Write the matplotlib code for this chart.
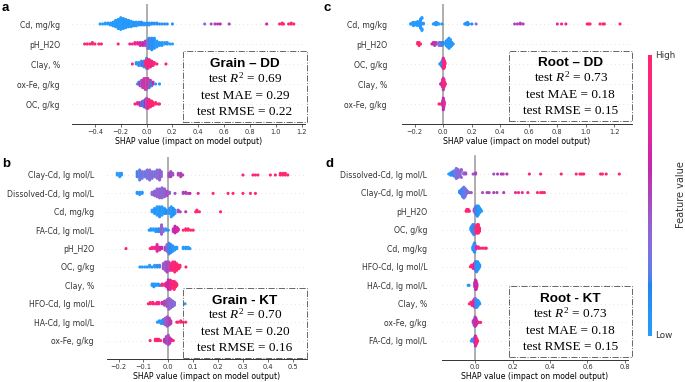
import numpy as np
import matplotlib
matplotlib.use("Agg")
import matplotlib.pyplot as plt
from matplotlib.colors import LinearSegmentedColormap
from matplotlib.patches import Rectangle
from matplotlib.cm import ScalarMappable

plt.rcParams["mathtext.fontset"] = "custom"
plt.rcParams["mathtext.rm"] = "Liberation Serif"
plt.rcParams["mathtext.it"] = "Liberation Serif:italic"

# =========================
# DATA  (shap value, number of samples, normalised feature value)
# =========================
# a : Grain - DD
A_CD = [(-0.36, 1, 0.0), (-0.34, 1, 0.02), (-0.32, 2, 0.0), (-0.30, 2, 0.03), (-0.28, 3, 0.0),
        (-0.26, 5, 0.02), (-0.24, 8, 0.0), (-0.22, 11, 0.02), (-0.20, 14, 0.0), (-0.18, 12, 0.05),
        (-0.16, 10, 0.02), (-0.14, 8, 0.05), (-0.12, 7, 0.0), (-0.10, 5, 0.08), (-0.08, 5, 0.03),
        (-0.06, 4, 0.05), (-0.04, 4, 0.1), (-0.02, 3, 0.05), (0.0, 3, 0.08), (0.02, 3, 0.05),
        (0.04, 2, 0.1), (0.06, 2, 0.05), (0.08, 2, 0.08), (0.10, 1, 0.1), (0.12, 1, 0.05),
        (0.14, 1, 0.1), (0.16, 1, 0.05), (0.20, 1, 0.08),
        (0.45, 1, 0.3), (0.50, 1, 0.45), (0.53, 1, 0.5), (0.55, 1, 0.55), (0.57, 1, 0.6),
        (0.64, 1, 0.5), (0.93, 1, 0.65), (1.03, 1, 0.9), (1.05, 2, 0.95), (1.06, 1, 1.0),
        (1.10, 1, 1.0), (1.12, 2, 0.95), (1.14, 1, 1.0)]
A_PH = [(-0.48, 1, 1.0), (-0.46, 1, 0.95), (-0.44, 1, 1.0), (-0.42, 2, 0.9), (-0.40, 1, 1.0),
        (-0.37, 1, 0.95), (-0.35, 1, 1.0), (-0.22, 1, 0.95), (-0.13, 1, 0.85), (-0.11, 1, 0.9),
        (-0.09, 2, 0.8), (-0.07, 2, 0.85), (-0.05, 3, 0.7), (-0.03, 3, 0.6), (-0.01, 4, 0.5),
        (0.01, 7, 0.3), (0.02, 8, 0.2), (0.04, 9, 0.1), (0.06, 8, 0.05), (0.08, 5, 0.0),
        (0.10, 3, 0.05), (0.12, 3, 0.0), (0.14, 2, 0.0), (0.16, 2, 0.05), (0.18, 1, 0.0), (0.20, 1, 0.0)]
A_CLAY = [(-0.11, 1, 1.0), (-0.08, 2, 0.05), (-0.06, 3, 0.1), (-0.04, 4, 0.0), (-0.03, 3, 0.5),
          (-0.02, 5, 0.1), (-0.01, 4, 0.9), (0.0, 6, 0.95), (0.0, 2, 0.1), (0.01, 7, 0.85),
          (0.02, 6, 1.0), (0.03, 5, 0.9), (0.04, 4, 0.7), (0.05, 3, 0.95), (0.06, 2, 1.0),
          (0.08, 1, 0.9), (0.15, 1, 1.0)]
A_OXFE = [(-0.07, 1, 0.2), (-0.06, 2, 0.1), (-0.05, 3, 0.6), (-0.04, 4, 0.3), (-0.03, 5, 0.8),
          (-0.02, 6, 0.5), (-0.01, 7, 0.9), (0.0, 7, 0.4), (0.01, 6, 0.7), (0.02, 5, 0.2),
          (0.03, 4, 0.9), (0.04, 3, 0.1), (0.05, 2, 0.6), (0.07, 1, 0.0), (0.10, 1, 0.05)]
A_OC = [(-0.09, 1, 1.0), (-0.07, 2, 0.8), (-0.05, 3, 0.6), (-0.04, 3, 0.1), (-0.03, 4, 0.5),
        (-0.02, 5, 0.2), (-0.01, 6, 0.6), (0.0, 8, 0.4), (0.01, 7, 0.7), (0.02, 6, 0.9),
        (0.03, 5, 1.0), (0.04, 4, 0.85), (0.05, 3, 1.0), (0.07, 2, 0.95), (0.09, 1, 1.0), (0.10, 1, 0.9)]

# c : Root - DD
C_CD = [(-0.23, 1, 0.0), (-0.22, 2, 0.0), (-0.21, 3, 0.02), (-0.20, 4, 0.0), (-0.19, 3, 0.0),
        (-0.18, 3, 0.03), (-0.17, 4, 0.0), (-0.16, 12, 0.02), (-0.15, 5, 0.0), (-0.14, 2, 0.05),
        (-0.07, 1, 0.05), (-0.06, 2, 0.0), (-0.05, 2, 0.05), (-0.04, 2, 0.02), (-0.03, 1, 0.0),
        (-0.01, 1, 0.05), (0.15, 1, 0.05), (0.16, 2, 0.1), (0.17, 2, 0.05), (0.18, 1, 0.1),
        (0.20, 1, 0.15), (0.23, 1, 0.3), (0.50, 1, 0.45), (0.52, 1, 0.5), (0.54, 2, 0.55),
        (0.56, 1, 0.5), (0.80, 1, 0.8), (0.83, 1, 0.85), (0.86, 1, 0.8), (1.01, 1, 0.95),
        (1.02, 1, 1.0), (1.03, 1, 0.95), (1.10, 1, 0.95), (1.12, 1, 1.0), (1.13, 1, 0.95), (1.24, 1, 1.0)]
C_PH = [(-0.18, 2, 1.0), (-0.17, 3, 0.95), (-0.16, 1, 1.0), (-0.08, 1, 0.7), (-0.07, 2, 0.6),
        (-0.06, 3, 0.55), (-0.05, 2, 0.5), (-0.03, 3, 0.35), (-0.02, 3, 0.3), (-0.01, 3, 0.2),
        (0.0, 2, 0.15), (0.02, 4, 0.05), (0.03, 6, 0.0), (0.04, 8, 0.02), (0.05, 6, 0.0),
        (0.06, 3, 0.05), (0.07, 1, 0.0)]
C_OC = [(-0.025, 1, 0.0), (-0.015, 3, 0.05), (-0.008, 5, 0.1), (-0.003, 6, 0.3), (0.0, 8, 0.6),
        (0.004, 7, 0.9), (0.008, 5, 1.0), (0.012, 2, 0.95)]
C_CLAY = [(-0.02, 1, 0.5), (-0.01, 3, 0.6), (-0.005, 6, 0.8), (0.0, 9, 0.55), (0.005, 6, 0.9),
          (0.01, 3, 1.0), (0.015, 1, 0.9)]
C_OXFE = [(-0.03, 1, 1.0), (-0.02, 1, 0.9), (-0.005, 4, 0.5), (0.0, 9, 0.6), (0.004, 5, 0.55),
          (0.008, 2, 0.9)]

# b : Grain - KT
B_CLAYCD = [(-0.205, 2, 0.0), (-0.195, 3, 0.0), (-0.188, 2, 0.02),
            (-0.125, 4, 0.2), (-0.115, 7, 0.25), (-0.105, 5, 0.3), (-0.095, 4, 0.25), (-0.085, 6, 0.3),
            (-0.075, 7, 0.35), (-0.065, 5, 0.3), (-0.055, 4, 0.35), (-0.045, 6, 0.3), (-0.035, 7, 0.4),
            (-0.028, 4, 0.35), (0.003, 3, 0.45), (0.01, 4, 0.5), (0.018, 2, 0.45), (0.04, 2, 0.5),
            (0.05, 3, 0.55), (0.058, 1, 0.5), (0.30, 1, 0.85), (0.34, 1, 0.9), (0.35, 1, 0.95),
            (0.36, 1, 0.9), (0.41, 1, 0.95), (0.43, 1, 1.0), (0.45, 2, 1.0), (0.46, 2, 0.95),
            (0.47, 2, 1.0), (0.48, 1, 1.0)]
B_DISS = [(-0.125, 2, 0.05), (-0.115, 3, 0.0), (-0.105, 2, 0.05), (-0.065, 3, 0.35), (-0.055, 5, 0.4),
          (-0.045, 8, 0.35), (-0.035, 9, 0.4), (-0.025, 10, 0.35), (-0.015, 8, 0.4), (-0.005, 5, 0.45),
          (0.005, 2, 0.4), (0.027, 1, 0.45), (0.06, 2, 0.5), (0.07, 2, 0.55), (0.08, 1, 0.5),
          (0.087, 1, 0.6), (0.12, 1, 0.75), (0.18, 1, 0.95), (0.24, 1, 0.95), (0.26, 1, 1.0),
          (0.30, 1, 0.95), (0.33, 1, 1.0), (0.35, 1, 0.95)]
B_CD = [(-0.065, 2, 0.0), (-0.055, 4, 0.05), (-0.045, 6, 0.0), (-0.035, 7, 0.05), (-0.025, 6, 0.0),
        (-0.015, 4, 0.05), (-0.008, 3, 0.1), (0.005, 4, 0.05), (0.012, 7, 0.0), (0.02, 5, 0.1),
        (0.027, 3, 0.05), (0.04, 2, 0.45), (0.048, 1, 0.5), (0.07, 1, 0.55), (0.11, 1, 0.9),
        (0.115, 2, 0.95), (0.125, 1, 0.9), (0.21, 1, 1.0)]
B_FA = [(-0.077, 1, 0.0), (-0.07, 2, 0.05), (-0.06, 2, 0.0), (-0.05, 3, 0.05), (-0.04, 3, 0.1),
        (-0.033, 3, 0.2), (-0.027, 8, 0.4), (-0.02, 3, 0.3), (-0.01, 2, 0.05), (0.0, 1, 0.1),
        (0.02, 3, 0.55), (0.027, 6, 0.6), (0.035, 4, 0.7), (0.04, 2, 0.65), (0.06, 1, 0.95),
        (0.07, 2, 1.0), (0.08, 2, 0.95), (0.09, 1, 1.0), (0.10, 1, 0.95)]
B_PH = [(-0.17, 1, 1.0), (-0.073, 1, 0.9), (-0.065, 2, 0.95), (-0.055, 2, 0.8), (-0.045, 6, 0.75),
        (-0.035, 3, 0.7), (-0.027, 2, 0.6), (-0.013, 3, 0.5), (-0.005, 6, 0.35), (0.003, 9, 0.2),
        (0.01, 7, 0.1), (0.018, 5, 0.05), (0.026, 3, 0.0), (0.034, 2, 0.05), (0.06, 2, 0.0),
        (0.07, 2, 0.05), (0.08, 2, 0.0), (0.087, 1, 0.0)]
B_OC = [(-0.114, 1, 0.0), (-0.105, 1, 0.05), (-0.095, 1, 0.0), (-0.085, 1, 0.05), (-0.075, 2, 0.0),
        (-0.065, 1, 0.05), (-0.055, 2, 0.0), (-0.045, 2, 0.1), (-0.035, 2, 0.2), (-0.02, 4, 0.45),
        (-0.012, 6, 0.4), (-0.005, 7, 0.5), (0.002, 6, 0.45), (0.01, 5, 0.85), (0.018, 6, 0.9),
        (0.026, 7, 0.95), (0.034, 5, 1.0), (0.042, 3, 0.9), (0.047, 2, 1.0), (0.071, 1, 1.0)]
B_CLAY = [(-0.065, 2, 0.0), (-0.058, 3, 0.05), (-0.05, 2, 0.0), (-0.04, 2, 0.05), (-0.033, 1, 0.1),
          (-0.025, 2, 0.9), (-0.015, 2, 1.0), (-0.007, 4, 0.7), (0.0, 8, 0.6), (0.008, 8, 0.75),
          (0.016, 6, 0.9), (0.024, 7, 0.95), (0.03, 4, 1.0), (0.034, 2, 0.9)]
B_HFO = [(-0.08, 1, 1.0), (-0.072, 2, 0.95), (-0.062, 2, 1.0), (-0.052, 1, 0.9), (-0.045, 2, 0.95),
         (-0.038, 2, 0.85), (-0.025, 2, 0.7), (-0.015, 4, 0.5), (-0.005, 6, 0.45), (0.003, 9, 0.4),
         (0.01, 7, 0.35), (0.018, 5, 0.4), (0.025, 3, 0.3), (0.067, 1, 0.0)]
B_HA = [(-0.044, 1, 0.0), (-0.036, 2, 0.05), (-0.028, 3, 0.0), (-0.02, 4, 0.2), (-0.012, 6, 0.4),
        (-0.004, 8, 0.45), (0.004, 6, 0.5), (0.01, 3, 0.55), (0.034, 1, 1.0), (0.04, 1, 0.95),
        (0.05, 2, 1.0), (0.06, 1, 0.95), (0.07, 1, 1.0)]
B_OXFE = [(-0.073, 1, 1.0), (-0.052, 2, 0.95), (-0.045, 2, 1.0), (-0.038, 2, 0.9), (-0.03, 1, 0.95),
          (-0.015, 3, 0.6), (-0.008, 6, 0.5), (0.0, 8, 0.45), (0.006, 5, 0.55), (0.012, 2, 0.7),
          (0.02, 1, 1.0)]

# d : Root - KT
D_DISS = [(-0.14, 1, 0.0), (-0.13, 3, 0.05), (-0.12, 4, 0.1), (-0.11, 6, 0.25), (-0.10, 10, 0.3),
          (-0.09, 8, 0.35), (-0.08, 5, 0.35), (-0.073, 3, 0.4), (-0.06, 2, 0.4), (-0.05, 2, 0.45),
          (-0.01, 1, 0.45), (0.003, 2, 0.5), (0.10, 1, 0.45), (0.12, 1, 0.5), (0.14, 1, 0.55),
          (0.15, 1, 0.5), (0.17, 1, 0.55), (0.29, 1, 0.85), (0.35, 1, 0.9), (0.46, 1, 0.9),
          (0.54, 1, 0.95), (0.56, 1, 1.0), (0.57, 1, 0.95), (0.58, 1, 1.0), (0.67, 1, 1.0),
          (0.68, 1, 0.95), (0.70, 1, 1.0), (0.77, 1, 1.0)]
D_CLAYCD = [(-0.083, 2, 0.05), (-0.075, 4, 0.1), (-0.067, 7, 0.2), (-0.06, 9, 0.25), (-0.053, 7, 0.3),
            (-0.047, 4, 0.25), (-0.04, 2, 0.35), (-0.03, 1, 0.4), (-0.02, 1, 0.45), (0.04, 1, 0.45),
            (0.064, 1, 0.5), (0.075, 1, 0.5), (0.10, 1, 0.55), (0.117, 1, 0.5), (0.153, 1, 0.55),
            (0.216, 1, 0.8), (0.232, 1, 0.85), (0.252, 1, 0.8), (0.282, 1, 0.85), (0.333, 1, 0.9),
            (0.35, 1, 0.95), (0.36, 1, 1.0), (0.37, 1, 0.95)]
D_PH = [(-0.048, 1, 1.0), (-0.044, 2, 0.95), (-0.036, 2, 1.0), (-0.03, 1, 0.9), (-0.005, 2, 0.5),
        (0.0, 4, 0.4), (0.006, 6, 0.2), (0.012, 7, 0.1), (0.018, 6, 0.05), (0.024, 4, 0.0),
        (0.03, 2, 0.05), (0.035, 1, 0.0)]
D_OC = [(-0.023, 2, 0.0), (-0.018, 4, 0.05), (-0.012, 6, 0.1), (-0.006, 7, 0.2), (0.0, 5, 0.4),
        (0.006, 5, 0.9), (0.012, 6, 1.0), (0.018, 6, 0.95), (0.024, 3, 1.0)]
D_CD = [(-0.012, 3, 0.0), (-0.006, 6, 0.05), (-0.002, 8, 0.1), (0.002, 4, 0.3), (0.008, 2, 0.7),
        (0.017, 2, 0.85), (0.025, 1, 0.9), (0.035, 1, 0.95), (0.045, 1, 1.0), (0.055, 1, 0.95),
        (0.06, 1, 1.0)]
D_HFO = [(-0.025, 1, 1.0), (-0.018, 2, 0.95), (-0.01, 3, 0.85), (-0.004, 4, 0.6), (0.002, 6, 0.4),
         (0.008, 7, 0.1), (0.014, 6, 0.05), (0.02, 4, 0.0), (0.025, 2, 0.05)]
D_HA = [(-0.037, 1, 0.0), (-0.032, 1, 0.05), (-0.002, 4, 0.5), (0.002, 8, 0.55), (0.006, 7, 0.6),
        (0.01, 3, 0.7)]
D_CLAY = [(-0.03, 1, 1.0), (-0.022, 2, 0.95), (-0.015, 3, 0.9), (-0.008, 4, 0.8), (-0.002, 6, 0.6),
          (0.004, 6, 0.3), (0.01, 5, 0.1), (0.016, 4, 0.05), (0.022, 2, 0.0), (0.025, 1, 0.05)]
D_OXFE = [(-0.01, 2, 0.5), (-0.005, 5, 0.55), (0.0, 8, 0.5), (0.005, 6, 0.6), (0.01, 3, 0.7),
          (0.02, 1, 0.9), (0.03, 1, 1.0)]
D_FA = [(-0.02, 1, 0.0), (-0.015, 2, 0.05), (-0.01, 2, 0.1), (-0.003, 4, 0.4), (0.002, 7, 0.6),
        (0.006, 5, 0.8), (0.01, 3, 0.9), (0.014, 1, 1.0)]

ROWS_A = [("Cd, mg/kg", A_CD), ("pH_H2O", A_PH), ("Clay, %", A_CLAY), ("ox-Fe, g/kg", A_OXFE),
          ("OC, g/kg", A_OC)]
ROWS_C = [("Cd, mg/kg", C_CD), ("pH_H2O", C_PH), ("OC, g/kg", C_OC), ("Clay, %", C_CLAY),
          ("ox-Fe, g/kg", C_OXFE)]
ROWS_B = [("Clay-Cd, lg mol/L", B_CLAYCD), ("Dissolved-Cd, lg mol/L", B_DISS), ("Cd, mg/kg", B_CD),
          ("FA-Cd, lg mol/L", B_FA), ("pH_H2O", B_PH), ("OC, g/kg", B_OC), ("Clay, %", B_CLAY),
          ("HFO-Cd, lg mol/L", B_HFO), ("HA-Cd, lg mol/L", B_HA), ("ox-Fe, g/kg", B_OXFE)]
ROWS_D = [("Dissolved-Cd, lg mol/L", D_DISS), ("Clay-Cd, lg mol/L", D_CLAYCD), ("pH_H2O", D_PH),
          ("OC, g/kg", D_OC), ("Cd, mg/kg", D_CD), ("HFO-Cd, lg mol/L", D_HFO),
          ("HA-Cd, lg mol/L", D_HA), ("Clay, %", D_CLAY), ("ox-Fe, g/kg", D_OXFE), ("FA-Cd, lg mol/L", D_FA)]

# model scores: title, R2, MAE, RMSE
STATS_A = ("Grain – DD", 0.69, 0.29, 0.22)
STATS_B = ("Grain - KT", 0.70, 0.20, 0.16)
STATS_C = ("Root – DD", 0.73, 0.18, 0.15)
STATS_D = ("Root - KT", 0.73, 0.18, 0.15)

# =========================
# LAYOUT (pixels, origin top-left)
# =========================
W, H = 685, 382


def lch2rgb(l, c, h):
    # same perceptual ramp as shap's red_blue map
    a, b = c * np.cos(h), c * np.sin(h)
    fy = (l + 16) / 116
    fx, fz = fy + a / 500, fy - b / 200

    def finv(t):
        return t ** 3 if t > 6 / 29 else 3 * (6 / 29) ** 2 * (t - 4 / 29)

    X, Y, Z = 0.95047 * finv(fx), finv(fy), 1.08883 * finv(fz)
    rgb = np.array([3.2406 * X - 1.5372 * Y - 0.4986 * Z,
                    -0.9689 * X + 1.8758 * Y + 0.0415 * Z,
                    0.0557 * X - 0.2040 * Y + 1.0570 * Z])
    rgb = np.where(rgb > 0.0031308, 1.055 * np.abs(rgb) ** (1 / 2.4) - 0.055, 12.92 * rgb)
    return np.clip(rgb, 0, 1)


def red_blue():
    l_vals = np.r_[np.linspace(54, 40, 50), np.linspace(40, 54, 50)]
    c_vals = np.linspace(70, 90, 100)
    h_vals = np.linspace(4.6588, 0.35470565 + 2 * np.pi, 100)
    cols = [lch2rgb(l, c, h) for l, c, h in zip(l_vals, c_vals, h_vals)]
    # the published figure looks a bit washed out
    cols = [0.85 * c + 0.15 for c in cols]
    return LinearSegmentedColormap.from_list("red_blue", cols)


CMAP = red_blue()


def px_axes(fig, left, top, right, bottom):
    return fig.add_axes([left / W, 1 - bottom / H, (right - left) / W, (bottom - top) / H])


def beeswarm(ax, rows, xlim, xticks, pad):
    n = len(rows)
    for i, (name, pts) in enumerate(rows):
        pos = n - 1 - i
        ax.axhline(pos, color="#cccccc", lw=0.5, dashes=(1, 5), zorder=-1)
        xs = np.repeat([p[0] for p in pts], [p[1] for p in pts])
        cs = np.repeat([p[2] for p in pts], [p[1] for p in pts])
        # shap-like swarm layout
        quant = np.round(100 * (xs - xs.min()) / (xs.max() - xs.min() + 1e-8))
        order = np.argsort(quant, kind="stable")
        ys = np.zeros(len(xs))
        layer, last = 0, -1
        for k in order:
            if quant[k] != last:
                layer = 0
            ys[k] = np.ceil(layer / 2) * ((layer % 2) * 2 - 1)
            layer += 1
            last = quant[k]
        ys *= 0.9 * (0.4 / np.max(ys + 1))
        ax.scatter(xs, pos + ys, c=cs, cmap=CMAP, vmin=0, vmax=1, s=5, lw=0, zorder=3)

    ax.axvline(0, color="#999999", lw=1.1, zorder=-1)
    ax.set_xlim(xlim)
    ax.set_ylim(-1, n)
    ax.set_xticks(xticks)
    ax.set_yticks(range(n))
    ax.set_yticklabels([r[0] for r in rows][::-1], fontsize=5.6)
    for s in ["top", "right", "left"]:
        ax.spines[s].set_visible(False)
    ax.spines["bottom"].set_color("#333333")
    ax.spines["bottom"].set_linewidth(0.7)
    ax.tick_params(color="#333333", labelcolor="#333333")
    ax.tick_params("y", length=0, pad=pad)
    ax.tick_params("x", labelsize=4.8, length=2, width=0.5, pad=1.5)
    ax.set_xlabel("SHAP value (impact on model output)", fontsize=5.6, labelpad=1.5)


def stat_box(fig, x0, y0, x1, y1, stats):
    title, r2, mae, rmse = stats
    fig.add_artist(Rectangle((x0 / W, 1 - y1 / H), (x1 - x0) / W, (y1 - y0) / H,
                             transform=fig.transFigure, fill=False, ls="-.", lw=0.7, ec="#666666"))
    cx = (x0 + x1) / 2 / W
    step = (y1 - y0 - 22) / 3
    fig.text(cx, 1 - (y0 + 11 + 4.8) / H, title, ha="center", va="baseline",
             fontsize=9.7, fontweight="bold", family="Liberation Sans")
    lines = [f"test $R^2$ = {r2:.2f}", f"test MAE = {mae:.2f}", f"test RMSE = {rmse:.2f}"]
    for k, txt in enumerate(lines):
        yc = y0 + 11 + step * (k + 1)
        fig.text(cx, 1 - (yc + 4.3) / H, txt, ha="center", va="baseline",
                 fontsize=9.5, family="Liberation Serif")


def main() -> None:
    fig = plt.figure(figsize=(W / 100, H / 100), dpi=100)

    ax_a = px_axes(fig, 71.7, 4, 305, 124)
    beeswarm(ax_a, ROWS_A, (-0.58, 1.227), np.round(np.arange(-0.4, 1.21, 0.2), 1), 8.5)
    ax_c = px_axes(fig, 401.7, 4, 631.7, 124)
    beeswarm(ax_c, ROWS_C, (-0.292, 1.322), np.round(np.arange(-0.2, 1.21, 0.2), 1), 10.5)
    ax_b = px_axes(fig, 107.3, 156.6, 306.7, 359)
    beeswarm(ax_b, ROWS_B, (-0.245, 0.556), np.round(np.arange(-0.2, 0.51, 0.1), 1), 9.5)
    ax_d = px_axes(fig, 441.7, 155.5, 628.3, 359.5)
    beeswarm(ax_d, ROWS_D, (-0.178, 0.818), np.round(np.arange(0.0, 0.81, 0.2), 1), 10.5)

    stat_box(fig, 183, 51, 307, 122, STATS_A)
    stat_box(fig, 509, 50.7, 632.3, 120.7, STATS_C)
    stat_box(fig, 183.3, 287.7, 306.7, 357.7, STATS_B)
    stat_box(fig, 509, 285.7, 631.7, 356.7, STATS_D)

    for letter, x, y in [("a", 2, 11), ("b", 2, 167), ("c", 323, 11), ("d", 325, 167)]:
        fig.text(x / W, 1 - y / H, letter, fontsize=9.5, fontweight="bold",
                 family="Liberation Sans", va="baseline")

    # colour bar
    cax = px_axes(fig, 648.3, 55, 651.7, 336)
    cb = fig.colorbar(ScalarMappable(cmap=CMAP), cax=cax)
    cb.outline.set_visible(False)
    cax.set_yticks([])
    fig.text(655 / W, 1 - 55 / H, "High", fontsize=6.3, va="center", color="#333333")
    fig.text(655 / W, 1 - 336 / H, "Low", fontsize=6.3, va="center", color="#333333")
    fig.text(681 / W, 1 - 195 / H, "Feature value", fontsize=7, rotation=90,
             ha="center", va="center", color="#333333")

    fig.savefig("out.png", dpi=100)
    plt.close(fig)


if __name__ == "__main__":
    main()
